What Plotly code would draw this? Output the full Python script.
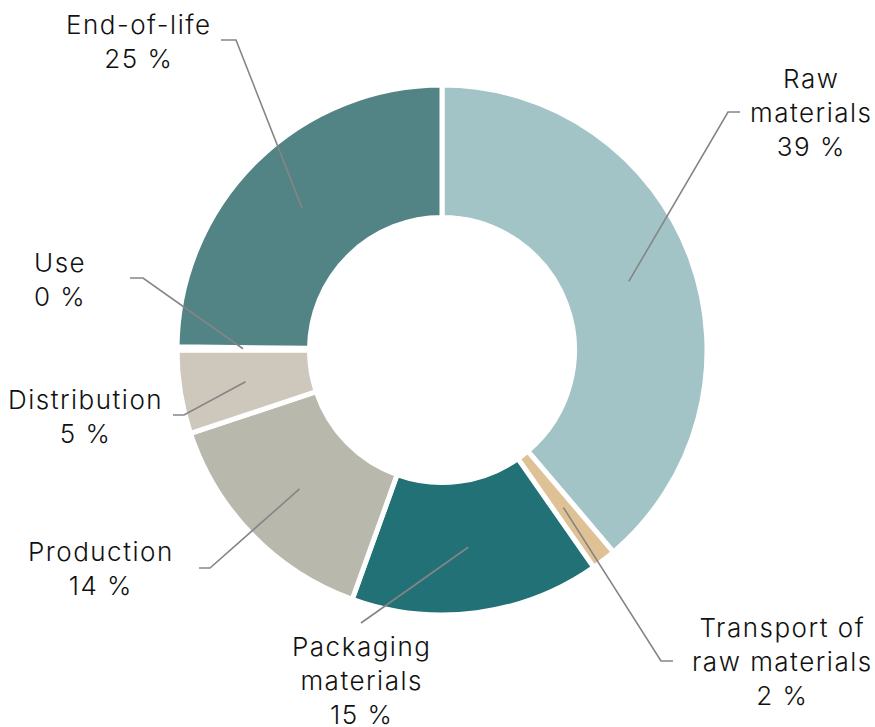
import math
import plotly.graph_objects as go

# ---- data ----
categories = ["Raw<br>materials", "Transport of<br>raw materials", "Packaging<br>materials",
              "Production", "Distribution", "Use", "End-of-life"]
values = [38.8, 1.5, 15.2, 14.4, 5.1, 0.2, 24.8]
colors = ["#a3c4c6", "#dfc196", "#217177", "#b9b8ad", "#cec8bc", "#9aa7a8", "#528486"]

# ---- layout helpers (pixels in the screenshot) ----
W, H = 875, 727
CX, CY, R = 442, 350, 265
HOLE = 0.5
R_MID = 199  # radius where leader lines start

# label text centers and leader-line elbow/end points (pixels)
label_pos = [(811, 112), (782, 661), (361, 680), (101, 568), (85, 416), (60, 279), (139, 41)]
leader_pts = [
    [(728, 112), (740, 112)],
    [(661, 661), (673, 661)],
    [(361, 623)],
    [(210, 568), (199, 568)],
    [(184, 415), (173, 415)],
    [(143, 278), (130, 278)],
    [(236, 40), (221, 40)],
]

def px(x):
    return x / W

def py(y):
    return 1 - y / H

fig = go.Figure()
fig.add_trace(go.Pie(
    labels=categories, values=values, sort=False, direction="clockwise", rotation=0,
    hole=HOLE, marker=dict(colors=colors, line=dict(color="white", width=5)),
    textinfo="none", hoverinfo="label+percent", showlegend=False,
    domain=dict(x=[px(CX - R), px(CX + R)], y=[py(CY + R), py(CY - R)]),
))

total = sum(values)
cum = 0.0
shapes = []
annotations = []
for i, (cat, v) in enumerate(zip(categories, values)):
    mid = (cum + v / 2) / total * 2 * math.pi
    cum += v
    sx = CX + R_MID * math.sin(mid)
    sy = CY - R_MID * math.cos(mid)
    pts = [(sx, sy)] + leader_pts[i]
    path = "M " + " L ".join(f"{px(x):.5f},{py(y):.5f}" for x, y in pts)
    shapes.append(dict(type="path", path=path, xref="paper", yref="paper",
                       line=dict(color="#858585", width=1.6)))
    pct = v / total * 100
    lines = (cat + f"<br>{pct:.0f} %").split("<br>")
    text = "<br>".join(f'<span style="letter-spacing:1.5px">{ln}</span>' for ln in lines)
    annotations.append(dict(
        x=px(label_pos[i][0]), y=py(label_pos[i][1]), xref="paper", yref="paper",
        text=text, showarrow=False, xanchor="center", yanchor="middle",
        align="center", font=dict(family="Inter", size=26, color="#111111", weight=300),
    ))

fig.update_layout(
    width=W, height=H, margin=dict(l=0, r=0, t=0, b=0),
    paper_bgcolor="white", plot_bgcolor="white",
    shapes=shapes, annotations=annotations,
)
fig.write_html(
    "out.html",
    config={"displayModeBar": False},
    post_script="document.body.style.margin='0';document.body.style.overflow='hidden';",
)
